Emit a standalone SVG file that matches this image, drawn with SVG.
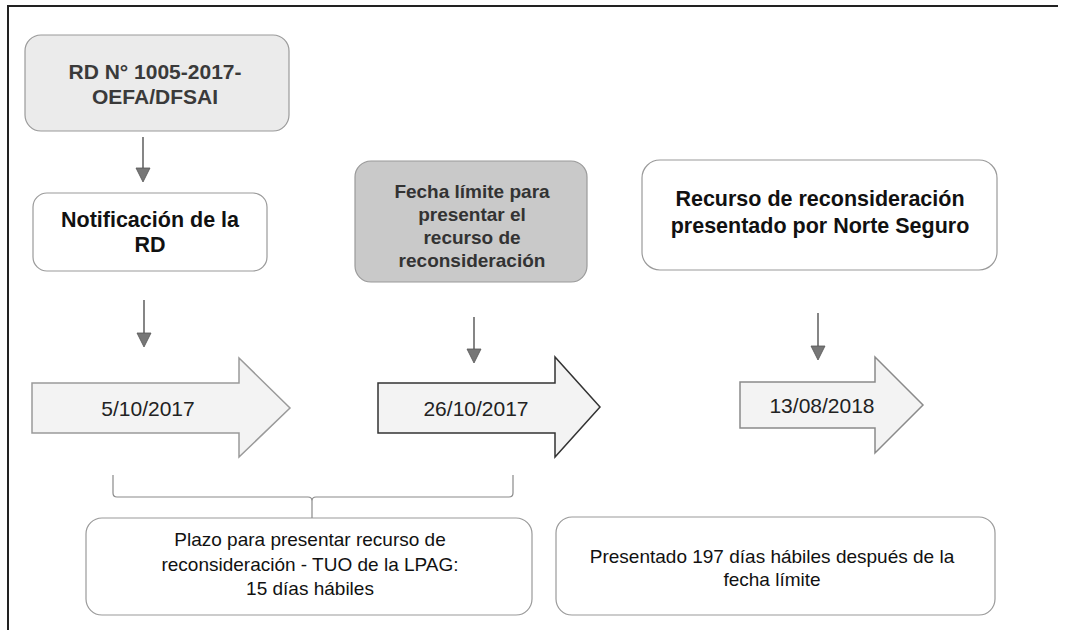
<svg xmlns="http://www.w3.org/2000/svg" width="1068" height="630" viewBox="0 0 1068 630">
<defs>
<style>
.box{stroke:#9a9a9a;stroke-width:1.2}
.t{font-family:"Liberation Sans",Arial,sans-serif;text-anchor:middle}
.b{font-weight:bold}
.con line{stroke:#444;stroke-width:1.3}
.con polygon{fill:#777;stroke:#555;stroke-width:0.8}
.big{fill:#f3f3f3;stroke-width:1.5}
</style>
</defs>
<rect width="1068" height="630" fill="#fff"/>
<g id="frame" stroke="#222" stroke-width="2" fill="none">
<line x1="8" y1="5" x2="8" y2="630"/>
<line x1="7" y1="6" x2="1058" y2="6"/>
</g>

<g id="node-rd">
<rect class="box" x="25" y="35" width="264" height="96" rx="16" fill="#ebebeb" stroke="#c4c4c4"/>
<text class="t b" x="155" y="79" font-size="21" fill="#3a3a3a">RD N° 1005-2017-</text>
<text class="t b" x="155" y="104" font-size="21" fill="#3a3a3a">OEFA/DFSAI</text>
</g>

<g id="node-notificacion">
<rect class="box" x="33" y="193" width="234" height="78" rx="14" fill="#fff"/>
<text class="t b" x="150" y="227" font-size="21.5" fill="#111">Notificación de la</text>
<text class="t b" x="150" y="252" font-size="21.5" fill="#111">RD</text>
</g>

<g id="node-fecha-limite">
<rect class="box" x="355" y="161" width="232" height="121" rx="16" fill="#c9c9c9" stroke="#b5b5b5"/>
<text class="t b" x="472" y="198" font-size="19" fill="#333">Fecha límite para</text>
<text class="t b" x="472" y="221" font-size="19" fill="#333">presentar el</text>
<text class="t b" x="472" y="244" font-size="19" fill="#333">recurso de</text>
<text class="t b" x="472" y="267" font-size="19" fill="#333">reconsideración</text>
</g>

<g id="node-recurso">
<rect class="box" x="642" y="160" width="355" height="110" rx="18" fill="#fff" stroke="#888"/>
<text class="t b" x="820" y="206" font-size="21.5" fill="#111">Recurso de reconsideración</text>
<text class="t b" x="820" y="233" font-size="21.5" fill="#111">presentado por Norte Seguro</text>
</g>

<g id="node-date1">
<polygon class="big" points="32,383 239,383 239,358 290,408 239,457 239,433 32,433" stroke="#9a9a9a"/>
<text class="t" x="148" y="416" font-size="21" fill="#222">5/10/2017</text>
</g>

<g id="node-date2">
<polygon class="big" points="378,383 555,383 555,357 600,407 555,457 555,433 378,433" stroke="#333"/>
<text class="t" x="476" y="416" font-size="21" fill="#222">26/10/2017</text>
</g>

<g id="node-date3">
<polygon class="big" points="740,382 875,382 875,357 923,405 875,453 875,428 740,428" stroke="#8a8a8a"/>
<text class="t" x="822" y="413" font-size="21" fill="#222">13/08/2018</text>
</g>

<g id="node-plazo">
<rect class="box" x="86" y="518" width="446" height="97" rx="16" fill="#fff"/>
<text class="t" x="310" y="546" font-size="19" fill="#111">Plazo para presentar recurso de</text>
<text class="t" x="310" y="571" font-size="19" fill="#111">reconsideración - TUO de la LPAG:</text>
<text class="t" x="310" y="595" font-size="19" fill="#111">15 días hábiles</text>
</g>

<g id="node-presentado">
<rect class="box" x="556" y="517" width="439" height="98" rx="16" fill="#fff"/>
<text class="t" x="772" y="563" font-size="19" fill="#111">Presentado 197 días hábiles después de la</text>
<text class="t" x="772" y="586" font-size="19" fill="#111">fecha límite</text>
</g>

<g id="connectors" class="con">
<line x1="143" y1="137" x2="143" y2="170"/>
<polygon points="136,168 150,168 143,182"/>
<line x1="144" y1="300" x2="144" y2="335"/>
<polygon points="137,333 151,333 144,347"/>
<line x1="474" y1="317" x2="474" y2="351"/>
<polygon points="467,349 481,349 474,363"/>
<line x1="818" y1="313" x2="818" y2="348"/>
<polygon points="811,346 825,346 818,360"/>
<path d="M113,475 L113,493 Q113,497 117,497 L308,497 Q312,497 312,501 L312,518 M312,501 Q312,497 316,497 L509,497 Q513,497 513,493 L513,475" fill="none" stroke="#8a8a8a" stroke-width="1.2"/>
</g>
</svg>
